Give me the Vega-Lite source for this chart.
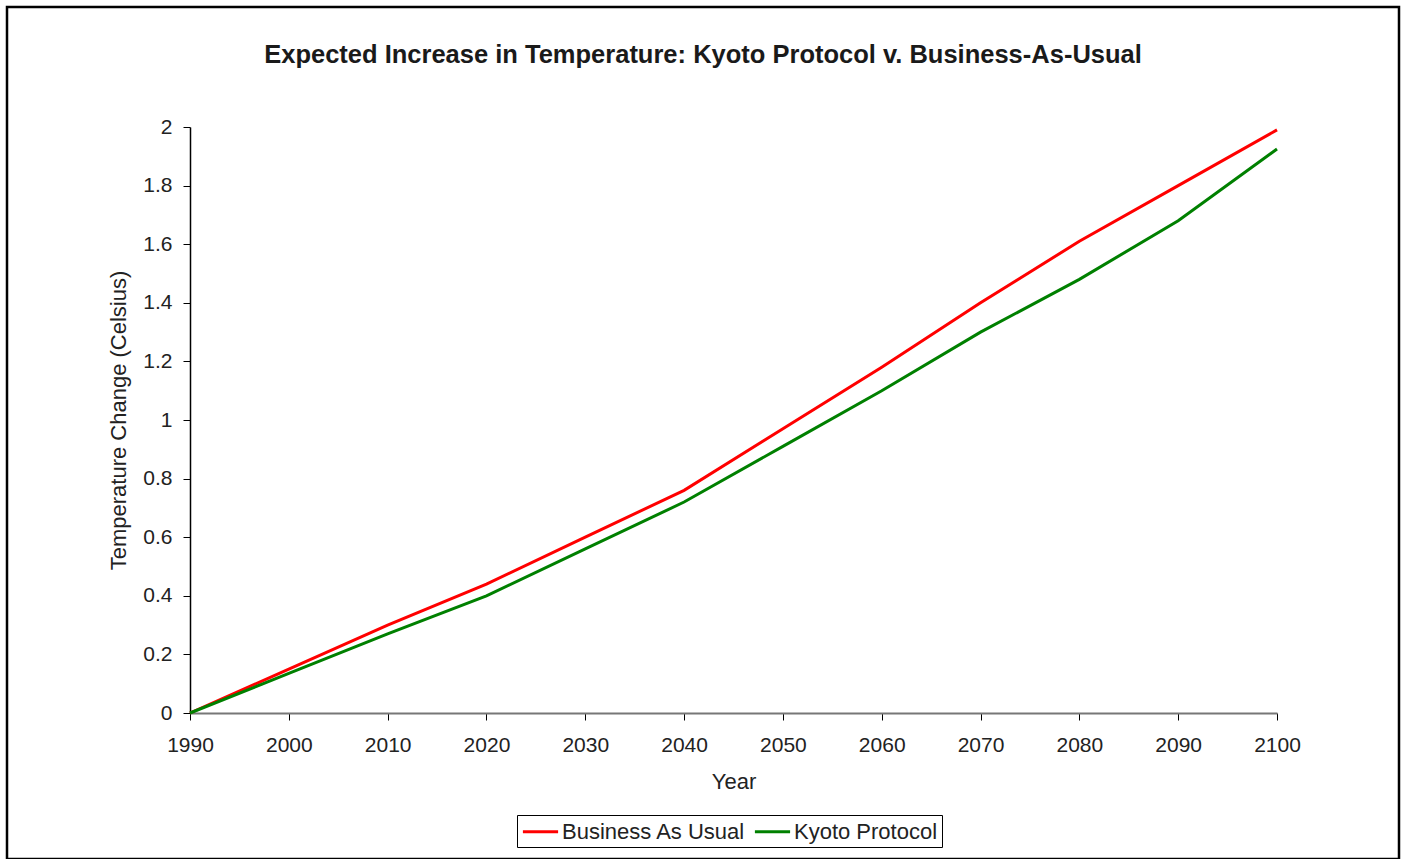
{
  "$schema": "https://vega.github.io/schema/vega-lite/v6.json",
  "width": 1392,
  "height": 852,
  "autosize": "none",
  "padding": {"left": 7, "top": 7, "right": 5, "bottom": 0},
  "background": "white",
  "config": {
    "font": "Liberation Sans",
    "view": {"stroke": "black", "strokeWidth": 2.5}
  },
  "title": {
    "text": "Expected Increase in Temperature: Kyoto Protocol v. Business-As-Usual",
    "fontSize": 25.5,
    "fontWeight": "bold",
    "color": "#1a1a1a",
    "anchor": "middle",
    "offset": -61
  },
  "data": {
    "values": [
      {"year": 1990, "temp": 0, "series": "Business As Usual"},
      {"year": 2000, "temp": 0.15, "series": "Business As Usual"},
      {"year": 2010, "temp": 0.30, "series": "Business As Usual"},
      {"year": 2020, "temp": 0.44, "series": "Business As Usual"},
      {"year": 2030, "temp": 0.60, "series": "Business As Usual"},
      {"year": 2040, "temp": 0.76, "series": "Business As Usual"},
      {"year": 2050, "temp": 0.97, "series": "Business As Usual"},
      {"year": 2060, "temp": 1.18, "series": "Business As Usual"},
      {"year": 2070, "temp": 1.40, "series": "Business As Usual"},
      {"year": 2080, "temp": 1.61, "series": "Business As Usual"},
      {"year": 2090, "temp": 1.80, "series": "Business As Usual"},
      {"year": 2100, "temp": 1.99, "series": "Business As Usual"},
      {"year": 1990, "temp": 0, "series": "Kyoto Protocol"},
      {"year": 2000, "temp": 0.135, "series": "Kyoto Protocol"},
      {"year": 2010, "temp": 0.27, "series": "Kyoto Protocol"},
      {"year": 2020, "temp": 0.40, "series": "Kyoto Protocol"},
      {"year": 2030, "temp": 0.56, "series": "Kyoto Protocol"},
      {"year": 2040, "temp": 0.72, "series": "Kyoto Protocol"},
      {"year": 2050, "temp": 0.91, "series": "Kyoto Protocol"},
      {"year": 2060, "temp": 1.10, "series": "Kyoto Protocol"},
      {"year": 2070, "temp": 1.30, "series": "Kyoto Protocol"},
      {"year": 2080, "temp": 1.48, "series": "Kyoto Protocol"},
      {"year": 2090, "temp": 1.68, "series": "Kyoto Protocol"},
      {"year": 2100, "temp": 1.925, "series": "Kyoto Protocol"}
    ]
  },
  "mark": {"type": "line", "strokeWidth": 3, "clip": false},
  "encoding": {
    "x": {
      "field": "year",
      "type": "quantitative",
      "scale": {"domain": [1990, 2100], "range": [183, 1270], "nice": false, "zero": false},
      "axis": {
        "title": "Year",
        "offset": -146,
        "values": [1990, 2000, 2010, 2020, 2030, 2040, 2050, 2060, 2070, 2080, 2090, 2100],
        "format": "d",
        "grid": false,
        "domainColor": "#777777",
        "domainWidth": 2,
        "tickColor": "#000000",
        "tickSize": 7,
        "labelFontSize": 21,
        "labelColor": "#222222",
        "labelPadding": 14,
        "labelFlush": false,
        "titleFontSize": 22,
        "titleFontWeight": "normal",
        "titleColor": "#222222",
        "titlePadding": 16
      }
    },
    "y": {
      "field": "temp",
      "type": "quantitative",
      "scale": {"domain": [0, 2], "range": [706, 120], "nice": false},
      "axis": {
        "title": "Temperature Change (Celsius)",
        "offset": -183,
        "values": [0, 0.2, 0.4, 0.6, 0.8, 1, 1.2, 1.4, 1.6, 1.8, 2],
        "format": ".1~f",
        "grid": false,
        "domainColor": "#000000",
        "domainWidth": 1.5,
        "tickColor": "#000000",
        "tickSize": 7,
        "labelFontSize": 21,
        "labelColor": "#222222",
        "labelPadding": 11,
        "labelFlush": false,
        "titleFontSize": 22,
        "titleFontWeight": "normal",
        "titleColor": "#222222",
        "titlePadding": 12
      }
    },
    "color": {
      "field": "series",
      "type": "nominal",
      "scale": {"domain": ["Business As Usual", "Kyoto Protocol"], "range": ["#ff0000", "#008000"]},
      "legend": {
        "title": null,
        "orient": "none",
        "legendX": 510,
        "legendY": 808,
        "direction": "horizontal",
        "strokeColor": "#000000",
        "padding": 4,
        "symbolType": "M-1.6,0L1.6,0",
        "symbolSize": 484,
        "symbolStrokeWidth": 3,
        "symbolOffset": 7,
        "labelFontSize": 22,
        "labelColor": "#222222",
        "labelOffset": 9,
        "labelLimit": 400,
        "columnPadding": 2
      }
    }
  }
}
